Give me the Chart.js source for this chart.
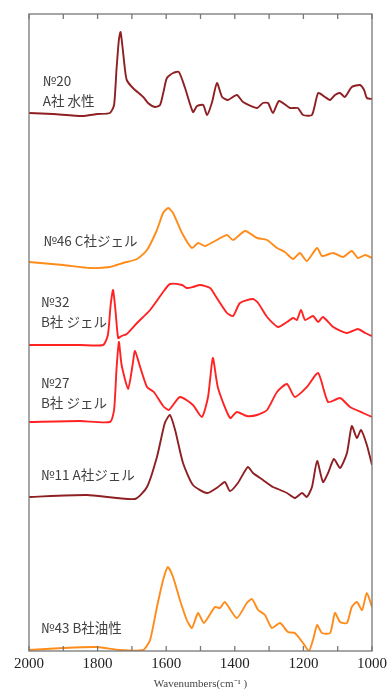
<!DOCTYPE html>
<html>
<head>
<meta charset="utf-8">
<script src="https://cdn.jsdelivr.net/npm/chart.js@4"></script>
<style>
  body { margin: 0; background: #fff; }
  #wrap { width: 389px; height: 689px; }
</style>
</head>
<body>
<div id="wrap"><canvas id="ir"></canvas></div>
<script>
// FT-IR spectra, stacked with offsets (arbitrary absorbance units)
const wn20 = [2000,1930,1845,1800,1764,1752,1745,1738,1733,1728,1720,1715,1697,1667,1653,1633,1618,1608,1598,1580,1563,1545,1522,1510,1492,1481,1467,1452,1437,1420,1394,1376,1335,1318,1303,1289,1271,1239,1216,1201,1175,1157,1137,1122,1108,1093,1079,1059,1035,1023,1015,1000];
const abs20 = [538,537,535,537,538,546,581,611,619,606,581,571,563,554,548,544,546,559,573,578,579,563,539,545,546,536,548,568,554,551,556,549,543,548,548,538,550,543,543,536,536,558,554,551,556,558,554,564,566,561,553,552];

const wn46 = [2000,1900,1822,1764,1726,1685,1656,1627,1609,1594,1580,1554,1525,1507,1487,1463,1423,1405,1370,1335,1306,1277,1254,1230,1210,1190,1160,1146,1113,1085,1059,1041,1020,1000];
const abs46 = [389,386,383,384,388,392,401,421,438,443,438,418,403,408,405,409,416,411,420,413,411,403,399,392,398,390,403,395,398,394,400,393,396,393];

const wn32 = [2000,1850,1784,1770,1762,1755,1748,1740,1730,1715,1685,1647,1609,1589,1554,1540,1522,1501,1472,1458,1423,1405,1385,1347,1332,1306,1274,1248,1230,1219,1207,1195,1172,1157,1143,1113,1073,1041,1020,1000];
const abs32 = [306,306,306,316,346,361,341,313,315,317,328,341,359,367,366,363,364,366,363,356,338,335,348,352,348,334,324,329,333,331,341,331,335,329,334,324,318,322,318,315];

const wn27 = [2000,1850,1764,1752,1745,1738,1730,1711,1698,1691,1676,1656,1636,1609,1592,1560,1522,1496,1478,1464,1449,1414,1394,1365,1335,1306,1277,1248,1225,1190,1157,1128,1093,1064,1026,1000];
const abs27 = [229,230,229,241,281,309,286,262,286,300,284,264,259,245,241,254,246,234,254,293,263,233,239,235,236,241,259,267,254,264,278,249,253,244,238,234];

const wn11 = [2000,1831,1691,1656,1627,1604,1589,1574,1551,1522,1481,1449,1429,1414,1391,1362,1347,1318,1289,1274,1248,1225,1204,1190,1175,1160,1143,1128,1111,1093,1073,1059,1044,1032,1015,1000];
const abs11 = [154,156,152,164,194,228,236,221,188,166,158,164,169,160,168,184,178,171,164,162,158,153,158,154,164,190,169,178,192,183,198,225,213,221,206,186];

const wn43 = [2000,1901,1802,1735,1667,1647,1627,1609,1595,1580,1560,1540,1525,1507,1490,1458,1443,1429,1394,1365,1350,1332,1312,1292,1268,1245,1225,1201,1184,1172,1160,1146,1122,1108,1093,1073,1059,1044,1029,1015,1000];
const abs43 = [1,3,4,1,1,11,44,71,84,74,51,31,23,38,28,44,43,49,33,48,52,41,36,23,28,19,18,8,0,11,26,18,18,38,29,28,44,49,41,58,44];

// sample labels: text lines, anchor wavenumber, anchor absorbance
const labelText = ['№20', 'A社 水性', '№46 C社ジェル', '№32', 'B社 ジェル', '№27', 'B社 ジェル', '№11 A社ジェル', '№43 B社油性'];
const labelWn   = [1960, 1960, 1958, 1965, 1965, 1965, 1965, 1965, 1965];
const labelAbs  = [570, 550, 410, 349, 329, 268, 248, 176, 23];

const DARKRED = '#8e1f22';
const ORANGE = '#ff8c1a';
const RED = '#ff2222';

function series(wn, abs, color) {
  return {
    data: wn.map((w, i) => ({ x: w, y: abs[i] })),
    borderColor: color,
    borderWidth: 1.9,
    pointRadius: 0,
    tension: 0.2,
    fill: false
  };
}

// frame with inward tick marks on top and bottom
const framePlugin = {
  id: 'frame',
  afterDraw(chart) {
    const { ctx, chartArea: a, scales: { x } } = chart;
    ctx.save();
    ctx.strokeStyle = '#777';
    ctx.lineWidth = 1.3;
    ctx.strokeRect(a.left, a.top, a.right - a.left, a.bottom - a.top);
    ctx.beginPath();
    x.ticks.forEach(t => {
      const px = x.getPixelForValue(t.value);
      ctx.moveTo(px, a.top); ctx.lineTo(px, a.top + 5);
      ctx.moveTo(px, a.bottom); ctx.lineTo(px, a.bottom - 5);
    });
    ctx.stroke();
    ctx.restore();
  }
};

const labelPlugin = {
  id: 'labels',
  afterDatasetsDraw(chart) {
    const { ctx, scales: { x, y } } = chart;
    ctx.save();
    ctx.font = '13.5px "Noto Sans CJK JP"';
    ctx.fillStyle = '#404040';
    ctx.textAlign = 'left';
    ctx.textBaseline = 'middle';
    labelText.forEach((t, i) => {
      ctx.fillText(t, x.getPixelForValue(labelWn[i]), y.getPixelForValue(labelAbs[i]));
    });
    ctx.restore();
  }
};

new Chart(document.getElementById('ir'), {
  type: 'line',
  data: {
    datasets: [
      series(wn20, abs20, DARKRED),
      series(wn46, abs46, ORANGE),
      series(wn32, abs32, RED),
      series(wn27, abs27, RED),
      series(wn11, abs11, DARKRED),
      series(wn43, abs43, ORANGE)
    ]
  },
  options: {
    responsive: true,
    maintainAspectRatio: false,
    animation: false,
    layout: { padding: { left: 29, right: 17, top: 14, bottom: 0 } },
    plugins: { legend: { display: false }, tooltip: { enabled: false } },
    scales: {
      x: {
        type: 'linear',
        reverse: true,
        min: 1000,
        max: 2000,
        grid: { display: false },
        border: { display: false },
        ticks: {
          stepSize: 100,
          autoSkip: false,
          maxRotation: 0,
          padding: -4,
          color: '#222',
          font: { family: '"Liberation Serif"', size: 15 },
          callback: v => (v % 200 === 0 ? v : '')
        },
        title: {
          display: true,
          text: 'Wavenumbers(cm⁻¹ )',
          color: '#444',
          font: { family: '"Liberation Serif"', size: 11 },
          padding: { top: 0, bottom: -2 }
        },
        afterFit(scale) { scale.height = 38; }
      },
      y: { display: false, min: 0, max: 637 }
    }
  },
  plugins: [framePlugin, labelPlugin]
});
</script>
</body>
</html>
